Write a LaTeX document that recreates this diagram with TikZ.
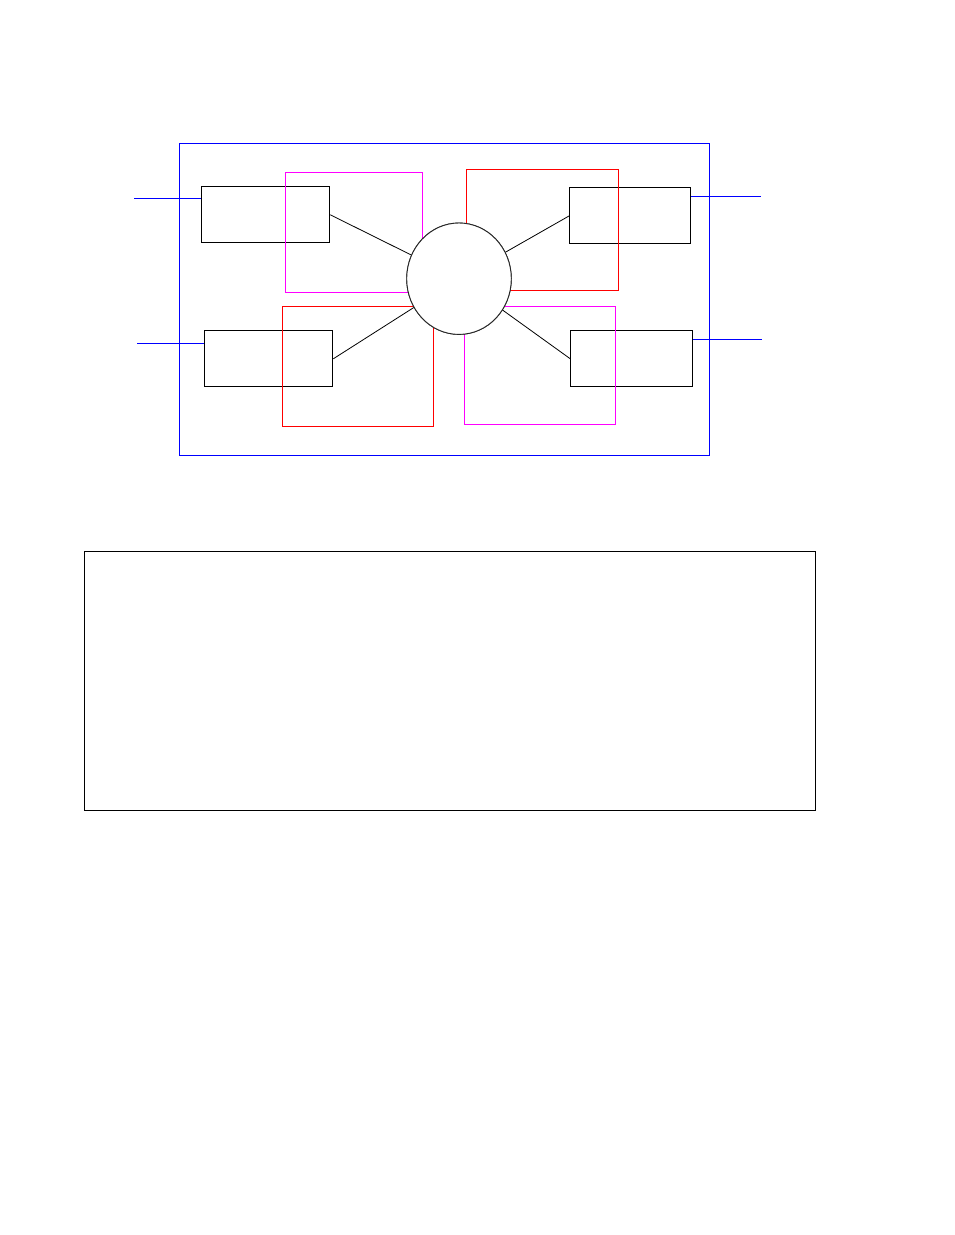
\documentclass[tikz,border=0pt]{standalone}
\usetikzlibrary{shapes.geometric}
\definecolor{wireblue}{RGB}{0,0,255}
\definecolor{zonemag}{RGB}{255,0,255}
\definecolor{zonered}{RGB}{255,0,0}
\begin{document}
\begin{tikzpicture}[x=1pt,y=-1pt,line width=1pt,
  blk/.style={draw=black,line width=1pt},
  bluel/.style={draw=wireblue,line width=1pt},
  magl/.style={draw=zonemag,line width=1pt},
  redl/.style={draw=zonered,line width=1pt},
  unit/.style={draw=black,line width=1pt,minimum width=#1,minimum height=56pt,inner sep=0pt,anchor=north west},
  hub/.style={draw=black!85,fill=white,ellipse,line width=0.9pt,minimum width=104.6pt,minimum height=111.4pt,inner sep=0pt}]
\useasboundingbox (0,0) rectangle (954,1235);
\fill[white] (0,0) rectangle (954,1235);
% outer frame
\draw[bluel] (179.3,143.3) rectangle (709.3,455);
% units
\node[unit=128pt] (tl) at (201.3,186.3) {};
\node[unit=121pt] (tr) at (569.3,187.3) {};
\node[unit=128pt] (bl) at (204.3,330.3) {};
\node[unit=121.4pt] (br) at (570.3,330.3) {};
% coloured regions
\draw[magl] (285.3,172.3) rectangle (422.3,292.3);
\draw[redl] (466.3,169.3) rectangle (618.3,290.3);
\draw[redl] (282.3,306) rectangle (433.3,426);
\draw[magl] (464.3,306) rectangle (615.3,424.3);
% hub
\node[hub] (c) at (459,278.7) {};
% connectors
\draw[blk,line width=0.8pt] (tl.east) -- (c);
\draw[blk,line width=0.8pt] (tr.west) -- (c);
\draw[blk,line width=0.8pt] (bl.east) -- (c);
\draw[blk,line width=0.8pt] (br.west) -- (c);
\node[hub] at (c) {};
% external wires
\coordinate (w1) at (134,198.3);
\coordinate (w2) at (760.7,196.3);
\coordinate (w3) at (137,343.3);
\coordinate (w4) at (761.7,339.3);
\draw[bluel] (w1) -- (w1 -| tl.west);
\draw[bluel] (w2) -- (w2 -| tr.east);
\draw[bluel] (w3) -- (w3 -| bl.west);
\draw[bluel] (w4) -- (w4 -| br.east);
% lower panel
\draw[blk] (84.3,551) rectangle (815,810);
\end{tikzpicture}
\end{document}
